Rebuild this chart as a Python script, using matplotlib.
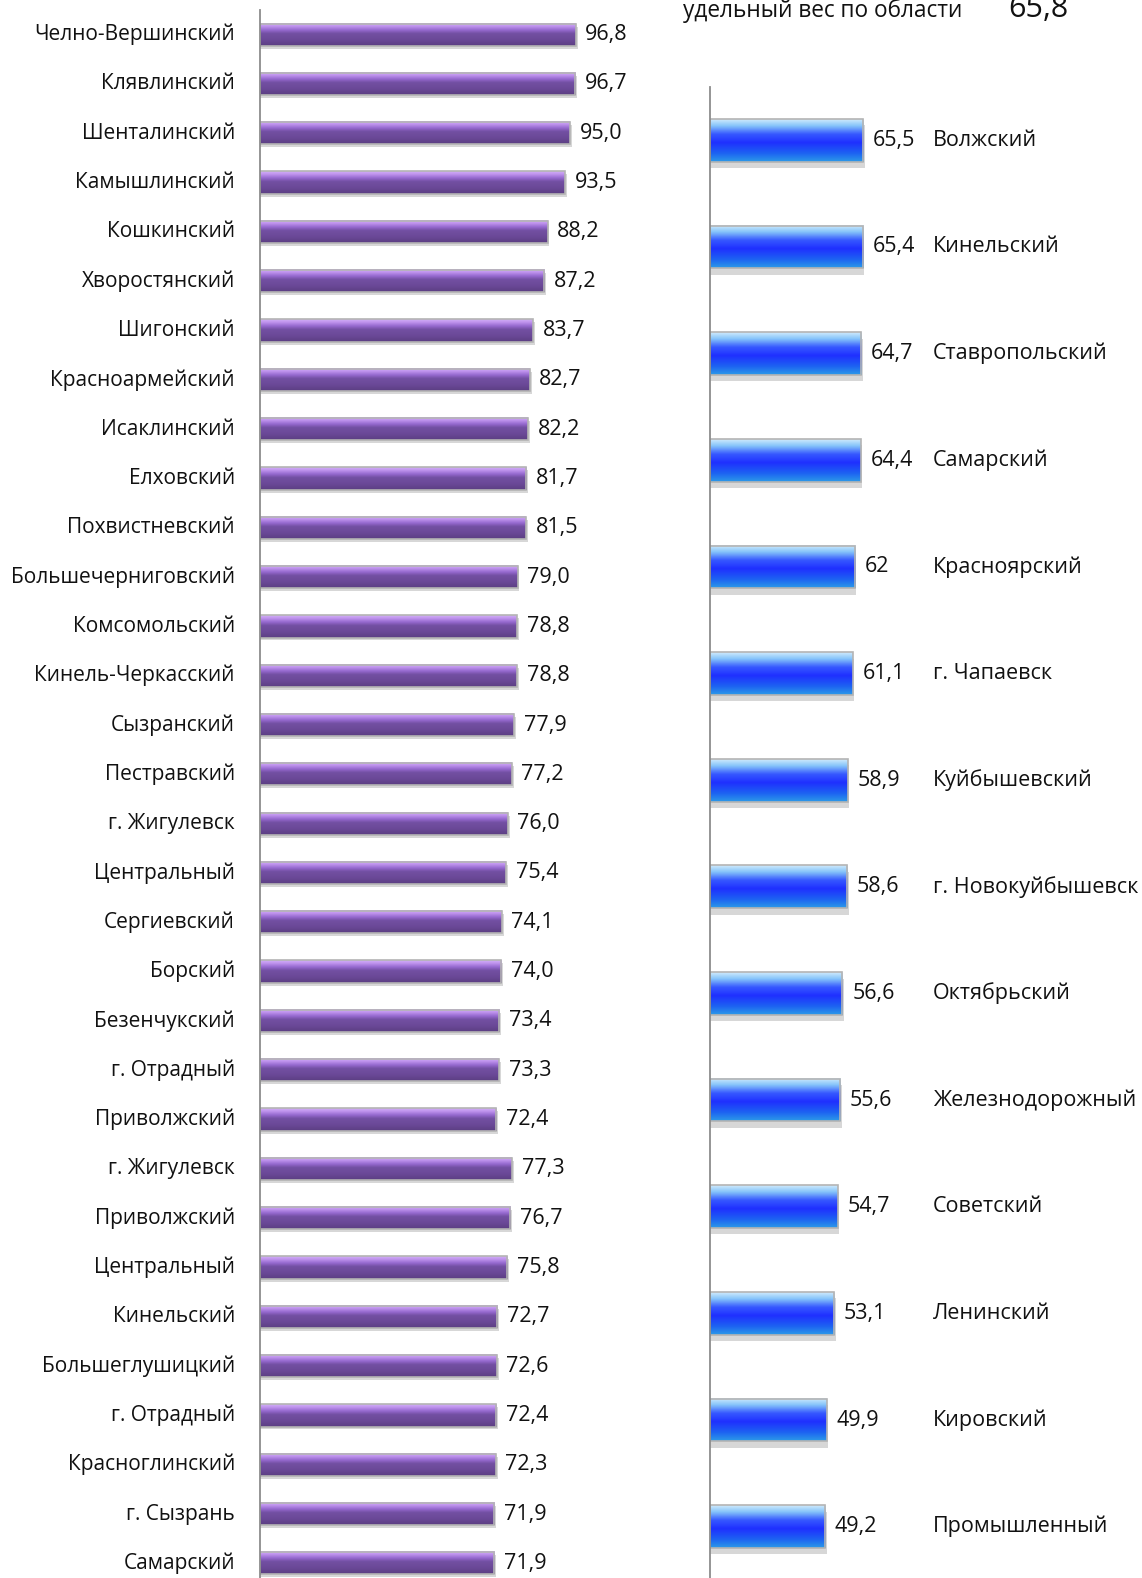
import numpy as np
import matplotlib.pyplot as plt
from matplotlib.colors import LinearSegmentedColormap

plt.rcParams['font.family'] = ['Open Sans', 'DejaVu Sans']

left_names = ["Челно-Вершинский", "Клявлинский", "Шенталинский", "Камышлинский",
              "Кошкинский", "Хворостянский", "Шигонский", "Красноармейский",
              "Исаклинский", "Елховский", "Похвистневский", "Большечерниговский",
              "Комсомольский", "Кинель-Черкасский", "Сызранский", "Пестравский",
              "г. Жигулевск", "Центральный", "Сергиевский", "Борский",
              "Безенчукский", "г. Отрадный", "Приволжский", "г. Жигулевск",
              "Приволжский", "Центральный", "Кинельский", "Большеглушицкий",
              "г. Отрадный", "Красноглинский", "г. Сызрань", "Самарский"]
left_vals = [96.8, 96.7, 95.0, 93.5, 88.2, 87.2, 83.7, 82.7, 82.2, 81.7, 81.5, 79.0,
             78.8, 78.8, 77.9, 77.2, 76.0, 75.4, 74.1, 74.0, 73.4, 73.3, 72.4, 77.3,
             76.7, 75.8, 72.7, 72.6, 72.4, 72.3, 71.9, 71.9]

right_names = ["Волжский", "Кинельский", "Ставропольский", "Самарский", "Красноярский",
               "г. Чапаевск", "Куйбышевский", "г. Новокуйбышевск", "Октябрьский",
               "Железнодорожный", "Советский", "Ленинский", "Кировский", "Промышленный"]
right_vals = [65.5, 65.4, 64.7, 64.4, 62, 61.1, 58.9, 58.6, 56.6, 55.6, 54.7, 53.1, 49.9, 49.2]
right_labels = ["65,5", "65,4", "64,7", "64,4", "62", "61,1", "58,9", "58,6", "56,6",
                "55,6", "54,7", "53,1", "49,9", "49,2"]

region_share = "65,8"

W, H = 1142, 1578
fig = plt.figure(figsize=(W / 100, H / 100), dpi=100)

purple = LinearSegmentedColormap.from_list("p", [
    (0.0, "#d2b0f6"), (0.12, "#c196ef"), (0.3, "#9669cf"),
    (0.45, "#7350a3"), (0.75, "#6a4896"), (1.0, "#5b3e82")])
blue = LinearSegmentedColormap.from_list("b", [
    (0.0, "#cfeafc"), (0.15, "#86c4fa"), (0.35, "#3658ff"),
    (0.55, "#1f30ff"), (0.8, "#1d62f2"), (1.0, "#2c9ae8")])


def draw(ax, vals, cmap, h, xmax, n):
    grad = np.linspace(0, 1, 64).reshape(-1, 1)
    for i, v in enumerate(vals):
        # soft shadow under the bar
        ax.barh(i + 0.06, v + 0.6, height=h, color="#b0b0b0", alpha=0.5, lw=0, zorder=1)
        ax.imshow(grad, cmap=cmap, aspect="auto", extent=(0, v, i + h / 2, i - h / 2),
                  zorder=2, interpolation="bilinear")
        ax.barh(i, v, height=h, color="none", edgecolor="#b4b4b4", lw=1.2, zorder=3)
    ax.set_xlim(0, xmax)
    ax.set_ylim(n - 0.5, -0.5)
    for s in ["top", "right", "bottom"]:
        ax.spines[s].set_visible(False)
    ax.spines["left"].set_color("#8c8c8c")
    ax.spines["left"].set_linewidth(1.3)
    ax.spines["left"].set_zorder(4)
    ax.set_xticks([])
    ax.set_yticks([])
    ax.set_facecolor("none")


# left chart
axl = fig.add_axes([260 / W, 1 - 1588 / H, 400 / W, 1578 / H])
draw(axl, left_vals, purple, 0.45, 400 / 3.26, len(left_vals))
for i, (n, v) in enumerate(zip(left_names, left_vals)):
    axl.annotate(n, xy=(235 / W, i), xycoords=("figure fraction", "data"),
                 ha="right", va="center", fontsize=15, color="#111111")
    axl.annotate(f"{v:.1f}".replace(".", ","), xy=(v, i), xytext=(7, 0),
                 textcoords="offset points", ha="left", va="center",
                 fontsize=15.5, color="#111111")

# right chart
axr = fig.add_axes([710 / W, 1 - 1580 / H, 430 / W, 1493 / H])
draw(axr, right_vals, blue, 0.40, 430 / 2.34, len(right_vals))
for i, (n, v, t) in enumerate(zip(right_names, right_vals, right_labels)):
    axr.annotate(n, xy=(933 / W, i), xycoords=("figure fraction", "data"),
                 ha="left", va="center", fontsize=15.5, color="#111111")
    axr.annotate(t, xy=(v, i), xytext=(7, 0), textcoords="offset points",
                 ha="left", va="center", fontsize=15.5, color="#111111")

fig.text(683 / W, 1 - 17 / H, "удельный вес по области", ha="left", va="baseline",
         fontsize=16.3, color="#111111")
fig.text(1008 / W, 1 - 17 / H, region_share, ha="left", va="baseline",
         fontsize=22, color="#111111")

fig.savefig("out.png", dpi=100)
